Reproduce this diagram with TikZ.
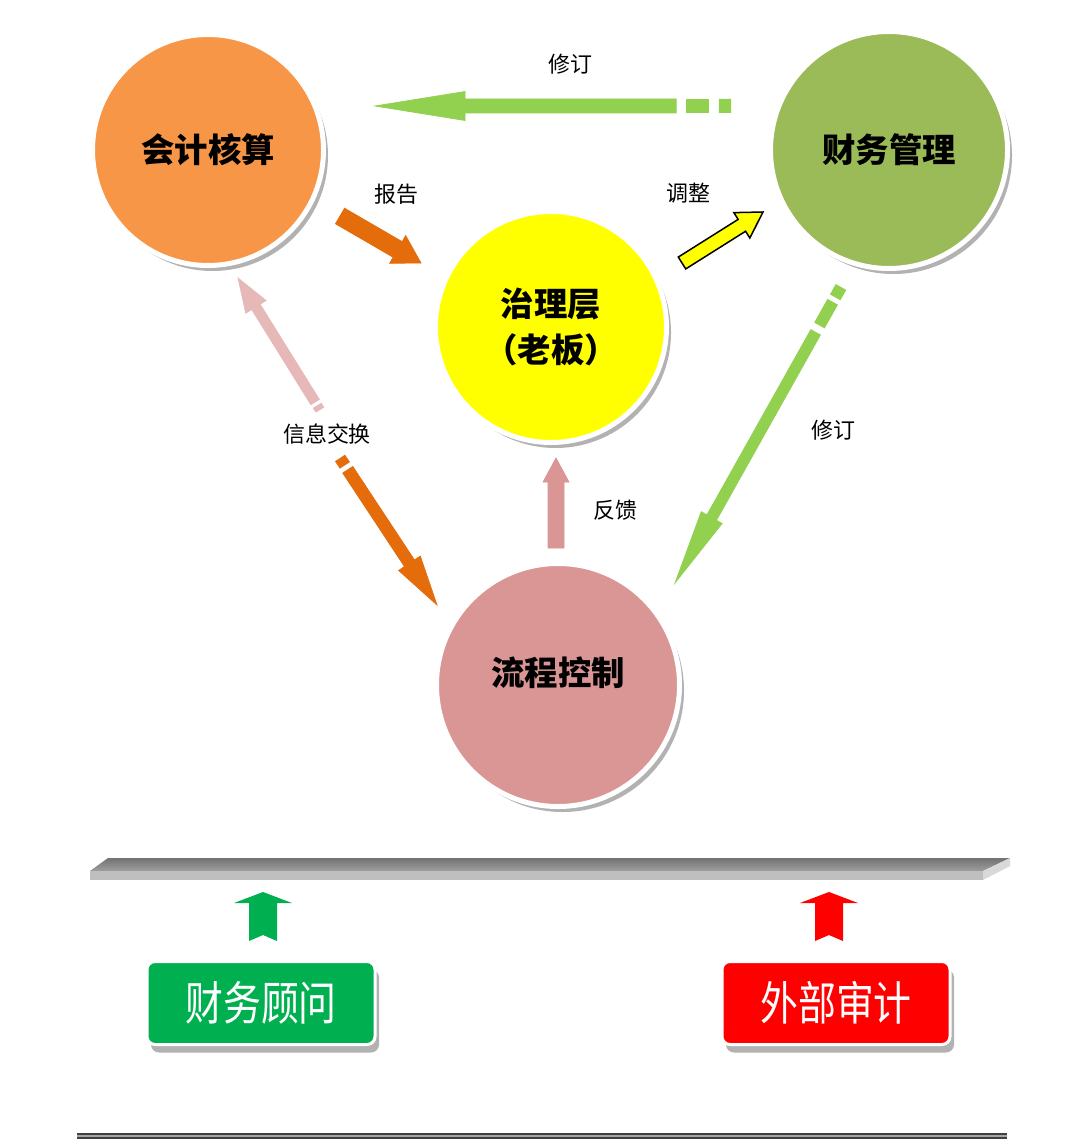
\documentclass[tikz,border=0pt]{standalone}
\usepackage{fontspec}
\newfontfamily\cjk{Noto Sans CJK SC}
\usetikzlibrary{calc,shadows}
\definecolor{kjorange}{HTML}{F79646}
\definecolor{cwgreen}{HTML}{9BBB59}
\definecolor{zlyellow}{HTML}{FFFF00}
\definecolor{lcpink}{HTML}{D99694}
\definecolor{ltgreen}{HTML}{92D050}
\definecolor{dkorange}{HTML}{E46C0A}
\definecolor{ltpink}{HTML}{E6B9B8}
\definecolor{gwgreen}{HTML}{00B050}
\definecolor{sjred}{HTML}{FF0000}
% block arrow: from, to, half body, half head, head length, style
\newcommand{\blockarrow}[6]{%
  \coordinate (hb) at ($(#2)!#5!(#1)$);
  \filldraw[#6] ($(#1)!#3!90:(#2)$) -- ($(hb)!#3!90:(#2)$) -- ($(hb)!#4!90:(#2)$)
    -- (#2) -- ($(hb)!#4!-90:(#2)$) -- ($(hb)!#3!-90:(#2)$) -- ($(#1)!#3!-90:(#2)$) -- cycle;}
% up arrow with notched tail, tip at #1
\newcommand{\notcharrow}[2]{%
  \fill[#2] (#1) -- ++(29,11) -- ++(-15,0) -- ++(0,38) -- ++(-14,-6) -- ++(-14,6)
    -- ++(0,-38) -- ++(-15,0) -- cycle;}
\begin{document}
\begin{tikzpicture}[x=0.2mm,y=-0.2mm,
  circ/.style={circle,draw=white,line width=1mm,inner sep=0pt,align=center,
    drop shadow={shadow xshift=0.9mm,shadow yshift=-1.1mm,fill=black!30,opacity=1},
    font=\cjk\bfseries\fontsize{19}{26}\selectfont},
  lab/.style={font=\cjk\fontsize{12.5}{15}\selectfont},
  box/.style={rounded corners=1.6mm,draw=white,line width=0.6mm,
    minimum width=45.6mm,minimum height=16.6mm,text=white,
    drop shadow={shadow xshift=0.8mm,shadow yshift=-1.6mm,fill=black!30,opacity=1},
    font=\cjk\fontsize{22}{22}\selectfont}]
  \fill[white] (0,0) rectangle (1080,1145);
  \useasboundingbox (0,0) rectangle (1080,1145);

  % circles
  \node[circ,fill=kjorange,minimum size=46.2mm] (kj) at (208,150) {会计核算};
  \node[circ,fill=cwgreen,minimum size=47.4mm] (cw) at (889,150) {财务管理};
  \node[circ,fill=zlyellow,minimum size=46.2mm] (zl) at (551,327) {治理层\\（老板）};
  \node[circ,fill=lcpink,minimum size=48.6mm] (lc) at (558,685) {\raisebox{0pt}[0pt][0pt]{流程控制}};

  % labels
  \node[lab] (l1) at (570,64) {修订};
  \node[lab] (l2) at (396,194) {报告};
  \node[lab] (l3) at (688,193) {调整};
  \node[lab] (l4) at (327,434) {信息交换};
  \node[lab] (l5) at (615,510) {反馈};
  \node[lab] (l6) at (833,430) {修订};

  % arrow ends
  \coordinate (t1) at (731,106);
  \coordinate (h1) at (375,106);
  \coordinate (b1) at ($(t1)!0.154!(h1)$);
  \coordinate (t2) at (340,216);
  \coordinate (h2) at (421,263);
  \coordinate (t3) at (682,263);
  \coordinate (h3) at (763,212);
  \coordinate (t4) at (320,410);
  \coordinate (h4) at (238,278);
  \coordinate (b4) at ($(t4)!0.06!(h4)$);
  \coordinate (t5) at (340,458);
  \coordinate (h5) at (437,605);
  \coordinate (b5) at ($(t5)!0.08!(h5)$);
  \coordinate (t6) at (556,548);
  \coordinate (h6) at (556,458);
  \coordinate (t7) at (841,287);
  \coordinate (h7) at (675,583);
  \coordinate (b7) at ($(t7)!0.153!(h7)$);

  % arrows
  \blockarrow{b1}{h1}{1.4mm}{2.9mm}{18mm}{ltgreen}
  \draw[ltgreen,line width=2.8mm] (t1) -- ($(t1)!0.034!(h1)$);
  \draw[ltgreen,line width=2.8mm] ($(t1)!0.062!(h1)$) -- ($(t1)!0.126!(h1)$);
  \blockarrow{t2}{h2}{1.8mm}{3.2mm}{5.4mm}{dkorange}
  \blockarrow{t3}{h3}{1.4mm}{3mm}{5mm}{fill=zlyellow,draw=black,line width=0.3mm}
  \blockarrow{b4}{h4}{1mm}{2.4mm}{6.8mm}{ltpink}
  \draw[ltpink,line width=2mm] (t4) -- ($(t4)!0.035!(h4)$);
  \blockarrow{b5}{h5}{1.2mm}{2.6mm}{10mm}{dkorange}
  \draw[dkorange,line width=2.4mm] (t5) -- ($(t5)!0.05!(h5)$);
  \blockarrow{t6}{h6}{1.6mm}{2.6mm}{4.8mm}{lcpink}
  \blockarrow{b7}{h7}{1.1mm}{2.4mm}{15mm}{ltgreen}
  \draw[ltgreen,line width=2.4mm] (t7) -- ($(t7)!0.035!(h7)$);
  \draw[ltgreen,line width=2.4mm] ($(t7)!0.05!(h7)$) -- ($(t7)!0.13!(h7)$);

  % gray bar
  \shade[top color=black!55,bottom color=black!38] (108,858) -- (1010,858) -- (983,871) -- (90,871) -- cycle;
  \fill[black!25] (90,871) rectangle (983,880);
  \fill[black!15] (983,871) -- (1010,858) -- (1010,866) -- (983,880) -- cycle;

  % bottom
  \notcharrow{263,892}{gwgreen}
  \notcharrow{829,892}{sjred}
  \node[box,fill=gwgreen] (gw) at (261,1003) {\scalebox{0.98}[1.2]{财务顾问}};
  \node[box,fill=sjred] (sj) at (836,1003) {\scalebox{0.98}[1.2]{外部审计}};
  \draw[black!75,line width=1.2mm] (77,1136) -- (1007,1136);
  \draw[black!35,line width=0.5mm] (77,1136) -- (1007,1136);
\end{tikzpicture}
\end{document}
